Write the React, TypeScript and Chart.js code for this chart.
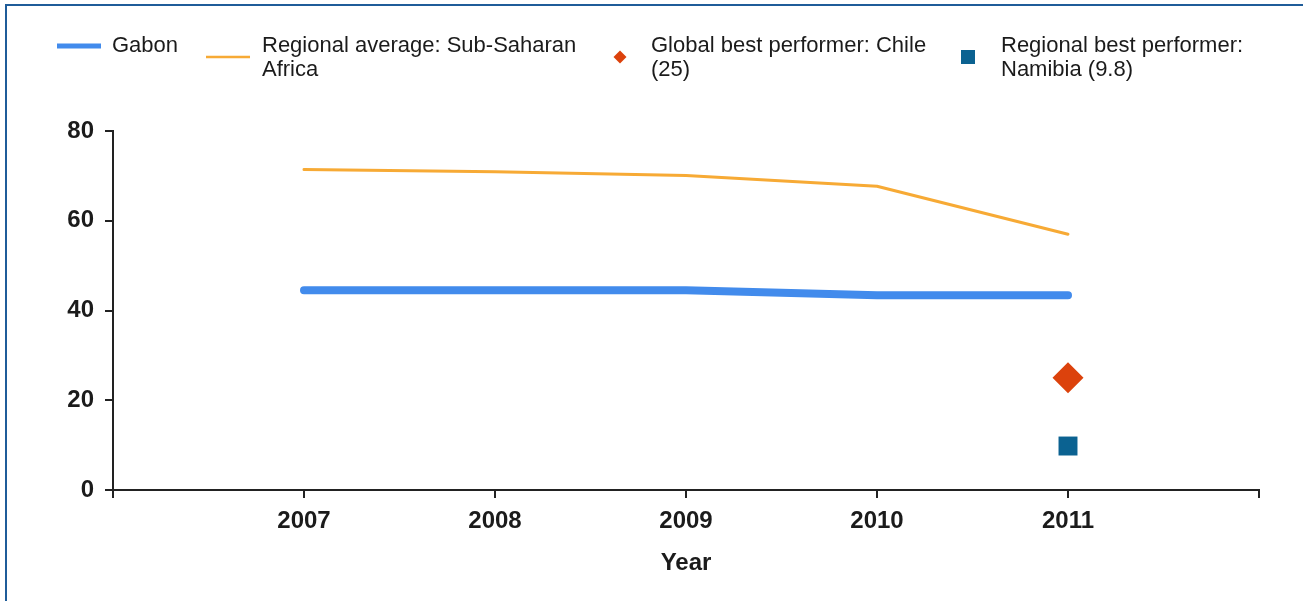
import React, { useEffect, useRef } from 'react';
import { Chart, registerables } from 'chart.js';

Chart.register(...registerables);

// ---- data ----
const years = [2007, 2008, 2009, 2010, 2011];
const gabonValues = [44.5, 44.5, 44.5, 43.4, 43.4];
const regionalAvgValues = [71.4, 70.9, 70.1, 67.7, 57.0];
const globalBestYears = [2011];
const globalBestValues = [25];
const regionalBestYears = [2011];
const regionalBestValues = [9.8];
const xTickValues = [2006, 2007, 2008, 2009, 2010, 2011, 2012];
const yTickValues = [0, 20, 40, 60, 80];

const seriesLabels = [
  'Gabon',
  'Regional average: Sub-Saharan Africa',
  'Global best performer: Chile (25)',
  'Regional best performer: Namibia (9.8)',
];
const legendLines = [
  ['Gabon'],
  ['Regional average: Sub-Saharan', 'Africa'],
  ['Global best performer: Chile', '(25)'],
  ['Regional best performer:', 'Namibia (9.8)'],
];
const xAxisTitle = 'Year';

const COLORS = {
  gabon: '#428bec',
  regional: '#f7aa35',
  global: '#dc420c',
  regionalBest: '#0b6291',
  axis: '#222222',
  text: '#1b1b1b',
};

const LEGEND_FONT = '22px "Liberation Sans", Arial, sans-serif';
const TICK_FONT = { family: '"Liberation Sans", Arial, sans-serif', size: 24, weight: 'bold' as const };

// marker / text placement for the custom canvas legend
const legendLayout = [
  { markerX: 57, textX: 112, markerY: 46, kind: 'thick' },
  { markerX: 206, textX: 262, markerY: 57, kind: 'thin' },
  { markerX: 620, textX: 651, markerY: 57, kind: 'diamond' },
  { markerX: 968, textX: 1001, markerY: 57, kind: 'square' },
];

const legendPlugin = {
  id: 'customLegend',
  afterDraw(chart: any) {
    const ctx = chart.ctx as CanvasRenderingContext2D;
    ctx.save();
    ctx.font = LEGEND_FONT;
    ctx.textBaseline = 'middle';
    chart.data.datasets.forEach((ds: any, i: number) => {
      const lay = legendLayout[i];
      const lines = legendLines[i];
      if (lay.kind === 'thick' || lay.kind === 'thin') {
        ctx.strokeStyle = ds.borderColor;
        ctx.lineWidth = lay.kind === 'thick' ? 5 : 2.5;
        ctx.lineCap = 'butt';
        ctx.beginPath();
        ctx.moveTo(lay.markerX, lay.markerY);
        ctx.lineTo(lay.markerX + 44, lay.markerY);
        ctx.stroke();
      } else if (lay.kind === 'diamond') {
        ctx.fillStyle = ds.backgroundColor;
        const r = 6.5;
        ctx.beginPath();
        ctx.moveTo(lay.markerX - r, lay.markerY);
        ctx.lineTo(lay.markerX, lay.markerY - r);
        ctx.lineTo(lay.markerX + r, lay.markerY);
        ctx.lineTo(lay.markerX, lay.markerY + r);
        ctx.closePath();
        ctx.fill();
      } else {
        ctx.fillStyle = ds.backgroundColor;
        const s = 14;
        ctx.fillRect(lay.markerX - s / 2, lay.markerY - s / 2, s, s);
      }
      ctx.fillStyle = COLORS.text;
      lines.forEach((line, j) => {
        ctx.fillText(line, lay.textX, 46 + j * 24);
      });
    });
    ctx.restore();
  },
};

export default function App() {
  const canvasRef = useRef<HTMLCanvasElement | null>(null);

  useEffect(() => {
    if (!canvasRef.current) return;
    const chart = new Chart(canvasRef.current, {
      type: 'line',
      data: {
        datasets: [
          {
            label: seriesLabels[0],
            data: years.map((x, i) => ({ x, y: gabonValues[i] })),
            borderColor: COLORS.gabon,
            backgroundColor: COLORS.gabon,
            borderWidth: 8,
            borderCapStyle: 'round',
            borderJoinStyle: 'round',
            pointRadius: 0,
            tension: 0,
          },
          {
            label: seriesLabels[1],
            data: years.map((x, i) => ({ x, y: regionalAvgValues[i] })),
            borderColor: COLORS.regional,
            backgroundColor: COLORS.regional,
            borderWidth: 3,
            borderCapStyle: 'round',
            borderJoinStyle: 'round',
            pointRadius: 0,
            tension: 0,
          },
          {
            label: seriesLabels[2],
            data: globalBestYears.map((x, i) => ({ x, y: globalBestValues[i] })),
            showLine: false,
            pointStyle: 'rectRot',
            pointRadius: 15.5,
            pointBorderWidth: 0,
            borderColor: COLORS.global,
            backgroundColor: COLORS.global,
            pointBackgroundColor: COLORS.global,
          },
          {
            label: seriesLabels[3],
            data: regionalBestYears.map((x, i) => ({ x, y: regionalBestValues[i] })),
            showLine: false,
            pointStyle: 'rect',
            pointRadius: 13.4,
            pointBorderWidth: 0,
            borderColor: COLORS.regionalBest,
            backgroundColor: COLORS.regionalBest,
            pointBackgroundColor: COLORS.regionalBest,
          },
        ],
      } as any,
      options: {
        animation: false,
        responsive: false,
        layout: { padding: { left: 0, right: 44, top: 131, bottom: 0 } },
        plugins: {
          legend: { display: false },
          tooltip: { enabled: false },
        },
        scales: {
          x: {
            type: 'linear',
            min: xTickValues[0],
            max: xTickValues[xTickValues.length - 1],
            afterBuildTicks: (scale: any) => {
              scale.ticks = xTickValues.map((v) => ({ value: v }));
            },
            afterFit: (scale: any) => {
              scale.height = 111;
            },
            ticks: {
              autoSkip: false,
              maxRotation: 0,
              padding: 9,
              color: COLORS.text,
              font: TICK_FONT,
              callback: (v: any) => (years.includes(Number(v)) ? String(v) : ''),
            },
            grid: {
              display: true,
              drawOnChartArea: false,
              drawTicks: true,
              tickLength: 8,
              color: COLORS.axis,
              lineWidth: 2,
            },
            border: { display: true, color: COLORS.axis, width: 2 },
            title: {
              display: true,
              text: xAxisTitle,
              color: COLORS.text,
              font: TICK_FONT,
              padding: { top: 0, bottom: 23 },
            },
          },
          y: {
            type: 'linear',
            min: yTickValues[0],
            max: yTickValues[yTickValues.length - 1],
            afterBuildTicks: (scale: any) => {
              scale.ticks = yTickValues.map((v) => ({ value: v }));
            },
            afterFit: (scale: any) => {
              scale.width = 113;
            },
            ticks: {
              padding: 11,
              color: COLORS.text,
              font: TICK_FONT,
            },
            grid: {
              display: true,
              drawOnChartArea: false,
              drawTicks: true,
              tickLength: 8,
              color: COLORS.axis,
              lineWidth: 2,
            },
            border: { display: true, color: COLORS.axis, width: 2 },
          },
        },
      } as any,
      plugins: [legendPlugin],
    });
    return () => chart.destroy();
  }, []);

  return (
    <div
      style={{
        position: 'fixed',
        left: 0,
        top: 0,
        width: 1303,
        height: 601,
        background: '#ffffff',
        overflow: 'hidden',
      }}
    >
      <canvas ref={canvasRef} width={1303} height={601} style={{ display: 'block' }} />
      <div
        style={{
          position: 'absolute',
          left: 5,
          top: 4,
          width: 1400,
          height: 700,
          borderTop: '2px solid #1f5c99',
          borderLeft: '2px solid #1f5c99',
          pointerEvents: 'none',
        }}
      />
    </div>
  );
}
